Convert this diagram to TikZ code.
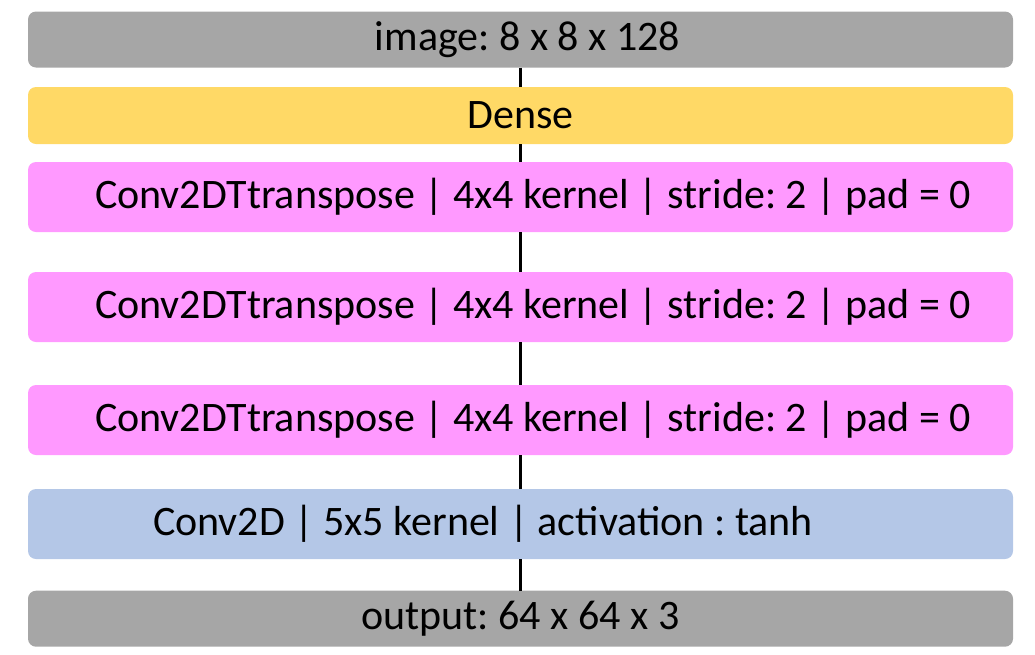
\documentclass[tikz,border=0pt]{standalone}
\usepackage{fontspec}
\setmainfont{Carlito}
\frenchspacing
\definecolor{iogray}{HTML}{A6A6A6}
\definecolor{densegold}{HTML}{FFD966}
\definecolor{convpink}{HTML}{FF99FF}
\definecolor{convblue}{HTML}{B4C7E7}
\tikzset{
  netbox/.style={rounded corners=8pt, minimum width=985pt, inner sep=0pt,
    font=\fontsize{42}{50}\selectfont, text=black},
  iobox/.style={netbox, fill=iogray, minimum height=56pt},
  densebox/.style={netbox, fill=densegold, minimum height=57pt},
  tconvbox/.style={netbox, fill=convpink, minimum height=70pt},
  convbox/.style={netbox, fill=convblue, minimum height=70pt},
}
\begin{document}
\begin{tikzpicture}[x=1pt,y=-1pt]
      \useasboundingbox (0,0) rectangle (1035,654);
      \draw
        (520.5,39.5) node[iobox] (img){\hspace*{14pt}image: 8 x 8 x 128}
        (520.5,115.5) node[densebox] (dense){Dense}
        (520.5,197) node[tconvbox] (tconv1){\hspace*{25pt}Conv2DTtranspose | 4x4 kernel | stride: 2 | pad = 0}
        (520.5,307) node[tconvbox] (tconv2){\hspace*{25pt}Conv2DTtranspose | 4x4 kernel | stride: 2 | pad = 0}
        (520.5,420) node[tconvbox] (tconv3){\hspace*{25pt}Conv2DTtranspose | 4x4 kernel | stride: 2 | pad = 0}
        (520.5,524) node[convbox] (conv){Conv2D | 5x5 kernel | activation : tanh\hspace*{75pt}}
        (520.5,618.7) node[iobox] (out){output: 64 x 64 x 3};
      \begin{scope}[line width=2.5pt]
        \draw (img) to (dense);
        \draw (dense) to (tconv1);
        \draw (tconv1) to (tconv2);
        \draw (tconv2) to (tconv3);
        \draw (tconv3) to (conv);
        \draw (conv) to (out);
      \end{scope}
    \end{tikzpicture}
\end{document}
